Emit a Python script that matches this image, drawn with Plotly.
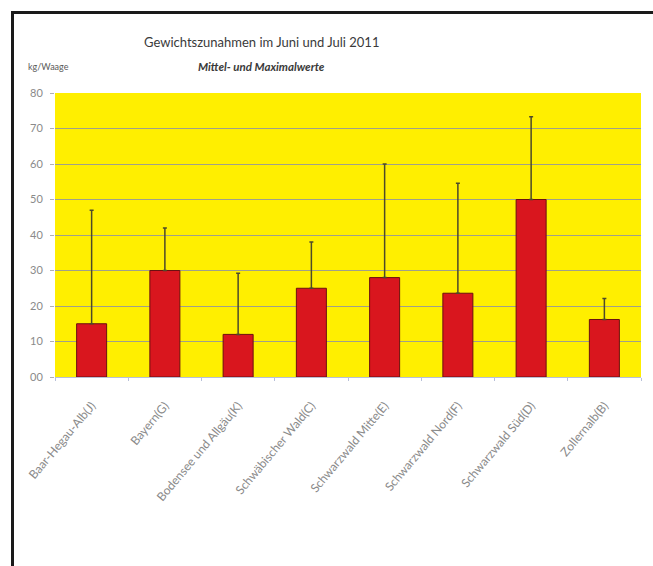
import plotly.graph_objects as go

categories = ["Baar-Hegau-Alb(J)", "Bayern(G)", "Bodensee und Allgäu(K)",
              "Schwäbischer Wald(C)", "Schwarzwald Mitte(E)", "Schwarzwald Nord(F)",
              "Schwarzwald Süd(D)", "Zollernalb(B)"]
mean_values = [15, 30, 12, 25, 28, 23.6, 50, 16.2]
max_values = [47, 42, 29.2, 38, 60, 54.6, 73.3, 22.1]
y_ticks = [0, 10, 20, 30, 40, 50, 60, 70, 80]

err_plus = [m - v for m, v in zip(max_values, mean_values)]

W, H = 653, 566
L, R, T, B = 55, 12, 93, 189
pw = W - L - R
ph = H - T - B

def px_x(px):
    return (px - L) / pw

def px_y(py):
    return (H - B - py) / ph

fig = go.Figure()
fig.add_trace(go.Bar(
    x=categories, y=mean_values,
    marker=dict(color="#D9161E", line=dict(color="#6b1010", width=1)),
    error_y=dict(type="data", symmetric=False, array=err_plus,
                 arrayminus=[0] * len(err_plus),
                 color="#4d4a2a", thickness=1.5, width=2),
    showlegend=False,
))

font_family = "Lato, 'Open Sans', sans-serif"

fig.update_layout(
    width=W, height=H,
    margin=dict(l=L, r=R, t=T, b=B, autoexpand=False),
    paper_bgcolor="white",
    plot_bgcolor="#FFEF00",
    bargap=0.59,
    font=dict(family=font_family, color="#8a8a8a", size=10),
    xaxis=dict(
        tickangle=-50, tickfont=dict(size=12, color="#8a8a8a"),
        showline=True, linecolor="#b8c0d8", linewidth=1,
        ticks="outside", ticklen=3, tickcolor="#b8c0d8", tickson="boundaries",
        ticklabelstandoff=16,
        showgrid=False,
    ),
    yaxis=dict(
        range=[0, 80], tickvals=y_ticks, tickformat="02d",
        showgrid=True, gridcolor="#a0a08a", gridwidth=1,
        ticks="outside", ticklen=4, tickcolor="#b0b0b0",
        tickfont=dict(size=11, color="#8a8a8a"),
        ticklabelstandoff=5,
        showline=False, zeroline=False,
    ),
    annotations=[
        # page frame: a thin filled bar along the top and one along the left
        dict(text=" ", xref="paper", yref="paper",
             x=px_x(11), y=px_y(11), xanchor="left", yanchor="top",
             width=W - 11, height=2.5, borderpad=0, borderwidth=0,
             bgcolor="#1a1a1a", showarrow=False, font=dict(size=1)),
        dict(text=" ", xref="paper", yref="paper",
             x=px_x(11), y=px_y(11), xanchor="left", yanchor="top",
             width=2.5, height=H - 11, borderpad=0, borderwidth=0,
             bgcolor="#1a1a1a", showarrow=False, font=dict(size=1)),
        dict(text="Gewichtszunahmen im Juni und Juli 2011", xref="paper", yref="paper",
             x=px_x(261), y=px_y(42), xanchor="center", yanchor="middle",
             showarrow=False, font=dict(size=13, color="#3a3a3a", family=font_family)),
        dict(text="<b><i>Mittel- und Maximalwerte</i></b>", xref="paper", yref="paper",
             x=px_x(261), y=px_y(67), xanchor="center", yanchor="middle",
             showarrow=False, font=dict(size=11.5, color="#3a3a3a", family=font_family)),
        dict(text="kg/Waage", xref="paper", yref="paper",
             x=px_x(26), y=px_y(67), xanchor="left", yanchor="middle",
             showarrow=False, font=dict(size=9, color="#5a5a5a", family=font_family)),
    ],
)

fig.write_html("out.html")
